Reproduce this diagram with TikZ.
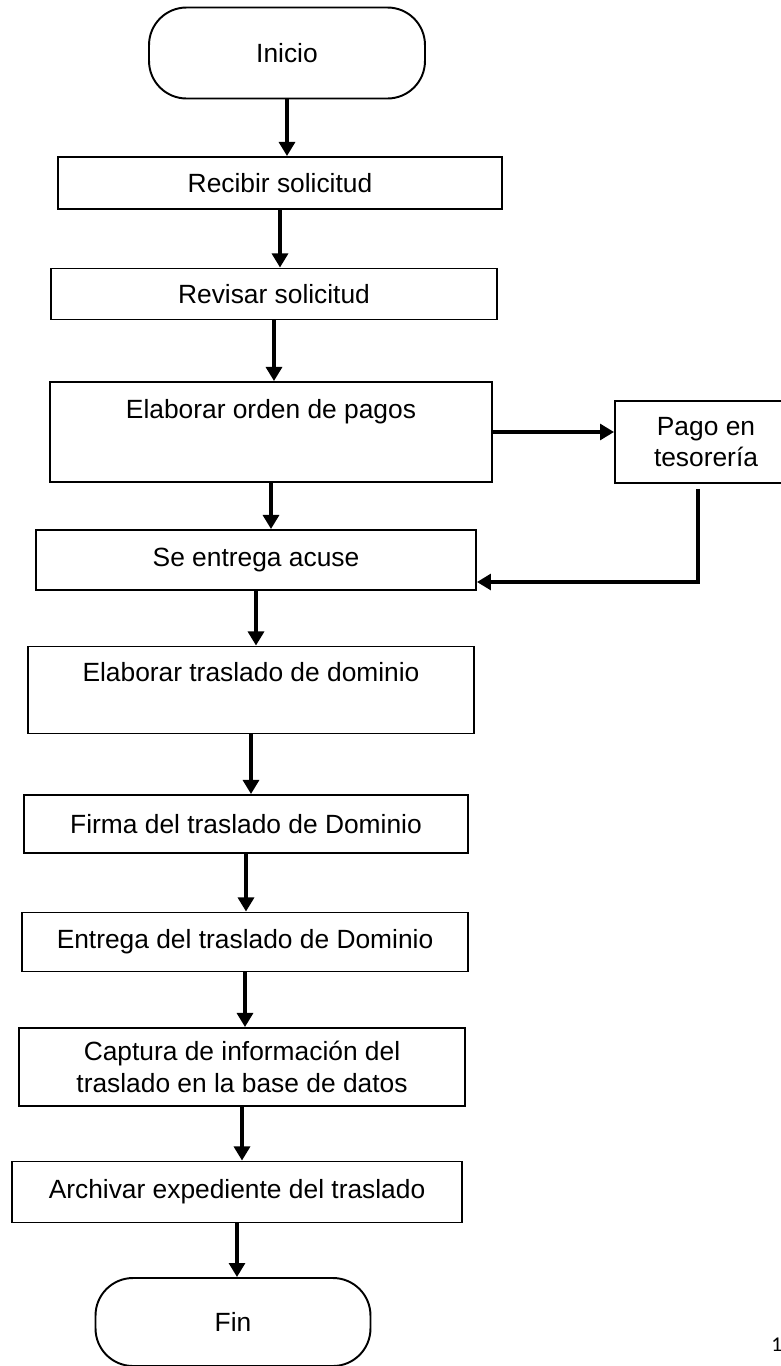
\documentclass[tikz,border=0pt]{standalone}
\usepackage{fontspec}
\setmainfont{Liberation Sans}
\newfontfamily\pagefont{Carlito}
\usetikzlibrary{arrows.meta}

\tikzset{
  proc/.style={draw, line width=1.1pt, align=center, inner sep=2pt,
    font=\fontsize{15}{18}\selectfont},
  term/.style={proc, rounded corners=0.75cm},
  flow/.style={line width=2pt, -{Triangle[length=8pt,width=9pt]}}
}

\begin{document}
\begin{tikzpicture}[x=0.02cm, y=-0.02cm]
  \useasboundingbox (0,0) rectangle (781,1366);
  \node[term, minimum width=5.52cm, minimum height=1.82cm] (ini) at (287,53) {Inicio};
  \node[proc, minimum width=8.9cm, minimum height=1.04cm] (rec) at (280,183) {Recibir solicitud};
  \node[proc, minimum width=8.92cm, minimum height=1.02cm] (rev) at (274,294) {Revisar solicitud};
  \node[proc, minimum width=8.84cm, minimum height=2cm] (ela) at (271,432) {Elaborar orden de pagos\\[8pt]\mbox{}};
  \node[proc, minimum width=3.64cm, minimum height=1.64cm] (pago) at (706,442) {Pago en\\tesorería};
  \node[proc, minimum width=8.8cm, minimum height=1.2cm] (acu) at (256,560) {Se entrega acuse};
  \node[proc, minimum width=8.92cm, minimum height=1.74cm] (tra) at (251,690) {Elaborar traslado de dominio\\[2pt]\mbox{}};
  \node[proc, minimum width=8.88cm, minimum height=1.16cm] (fir) at (246,824) {Firma del traslado de Dominio};
  \node[proc, minimum width=8.92cm, minimum height=1.18cm] (ent) at (245,942) {Entrega del traslado de Dominio};
  \node[proc, minimum width=8.94cm, minimum height=1.56cm] (cap) at (242,1067) {Captura de información del\\traslado en la base de datos};
  \node[proc, minimum width=9cm, minimum height=1.22cm] (arc) at (237,1192) {Archivar expediente del traslado};
  \node[term, minimum width=5.5cm, minimum height=1.76cm] (fin) at (233,1322) {Fin};
  \node[font=\pagefont\fontsize{12}{14}\selectfont, anchor=west, inner sep=0pt] (pg) at (771,1345) {1};

  \foreach \a/\b in {ini/rec,rec/rev,rev/ela,ela/acu,acu/tra,tra/fir,fir/ent,ent/cap,cap/arc,arc/fin}
    \draw[flow] (\a.south) -- (\a.south |- \b.north);

  % pago side branch
  \draw[flow] (ela.east) -- (ela.east -| pago.west);
  \coordinate (ret) at (698,582);
  \draw[flow] ([yshift=-0.1cm]ret |- pago.south) -- (ret) -- (ret -| acu.east);
\end{tikzpicture}
\end{document}
